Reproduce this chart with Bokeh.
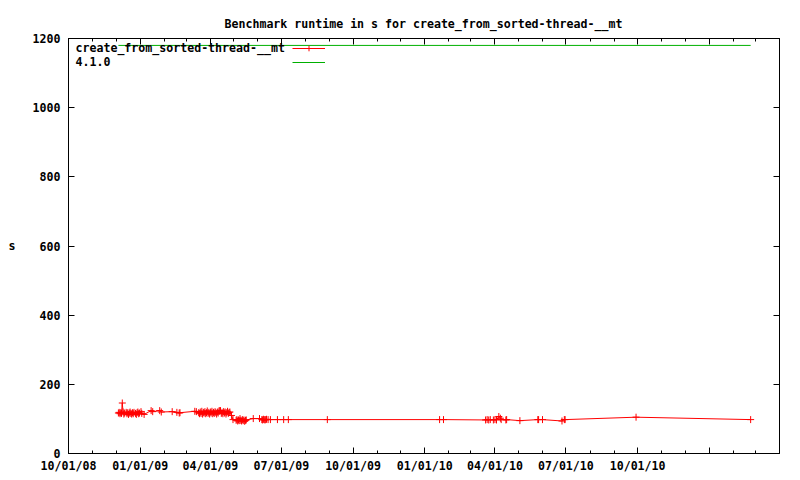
from datetime import datetime, timezone
from bokeh.plotting import figure
from bokeh.models import (Range1d, FixedTicker, LinearAxis, DatetimeTickFormatter,
                          CustomJSTickFormatter, Label, Legend, LegendItem)
from bokeh.embed import file_html
from bokeh.resources import INLINE

title_text = "Benchmark runtime in s for create_from_sorted-thread-__mt"
series_name = "create_from_sorted-thread-__mt"
ref_name = "4.1.0"
ref_value = 1180
y_label = "s"

x_start = "2008-10-01"
x_end = "2011-04-01"
y_ticks = [0, 200, 400, 600, 800, 1000, 1200]
x_major_ticks = ["2008-10-01", "2009-01-01", "2009-04-01", "2009-07-01", "2009-10-01",
                 "2010-01-01", "2010-04-01", "2010-07-01", "2010-10-01", "2011-01-01"]
x_tick_labels = ["10/01/08", "01/01/09", "04/01/09", "07/01/09", "10/01/09",
                 "01/01/10", "04/01/10", "07/01/10", "10/01/10", ""]
x_minor_ticks = ["2008-11-01", "2008-12-01", "2009-02-01", "2009-03-01", "2009-05-01",
                 "2009-06-01", "2009-08-01", "2009-09-01", "2009-11-01", "2009-12-01",
                 "2010-02-01", "2010-03-01", "2010-05-01", "2010-06-01", "2010-08-01",
                 "2010-09-01", "2010-11-01", "2010-12-01", "2011-02-01", "2011-03-01"]

dates = [
    "2008-12-04", "2008-12-05", "2008-12-06", "2008-12-07", "2008-12-08", "2008-12-09",
    "2008-12-10", "2008-12-11", "2008-12-12", "2008-12-14", "2008-12-15", "2008-12-16",
    "2008-12-17", "2008-12-18", "2008-12-19", "2008-12-20", "2008-12-21", "2008-12-22",
    "2008-12-23", "2008-12-24", "2008-12-26", "2008-12-27", "2008-12-28", "2008-12-29",
    "2008-12-30", "2008-12-31", "2009-01-02", "2009-01-03", "2009-01-06", "2009-01-15",
    "2009-01-17", "2009-01-26", "2009-01-28", "2009-02-11", "2009-02-17", "2009-02-20",
    "2009-02-21", "2009-03-12", "2009-03-14",
    "2009-03-17", "2009-03-18", "2009-03-19", "2009-03-20", "2009-03-21", "2009-03-22",
    "2009-03-23", "2009-03-24", "2009-03-25", "2009-03-26", "2009-03-27", "2009-03-28",
    "2009-03-29", "2009-03-30", "2009-03-31", "2009-04-01", "2009-04-02", "2009-04-03",
    "2009-04-04", "2009-04-05", "2009-04-06", "2009-04-07", "2009-04-08", "2009-04-09",
    "2009-04-10", "2009-04-11", "2009-04-12", "2009-04-13", "2009-04-14", "2009-04-15",
    "2009-04-16", "2009-04-17", "2009-04-18", "2009-04-19", "2009-04-20", "2009-04-21",
    "2009-04-22", "2009-04-23", "2009-04-24", "2009-04-25", "2009-04-26",
    "2009-04-28", "2009-04-30",
    "2009-05-04", "2009-05-05", "2009-05-06", "2009-05-07", "2009-05-08", "2009-05-09",
    "2009-05-10", "2009-05-11", "2009-05-12", "2009-05-13", "2009-05-14", "2009-05-15",
    "2009-05-16", "2009-05-17",
    "2009-05-26", "2009-06-03", "2009-06-06", "2009-06-07", "2009-06-08", "2009-06-09",
    "2009-06-10", "2009-06-11", "2009-06-12", "2009-06-14", "2009-06-17", "2009-06-26",
    "2009-07-04", "2009-07-10", "2009-08-29",
    "2010-01-20", "2010-01-25",
    "2010-03-20", "2010-03-22", "2010-03-24", "2010-03-26", "2010-03-30", "2010-04-01",
    "2010-04-03", "2010-04-06", "2010-04-08", "2010-04-09", "2010-04-15", "2010-04-16",
    "2010-05-03", "2010-05-26", "2010-05-27", "2010-06-01", "2010-06-26", "2010-06-29",
    "2010-06-30", "2010-09-29", "2011-02-23",
]
runtime = [
    117, 119, 115, 118, 116, 146,
    120, 114, 117, 119, 115, 118,
    113, 117, 120, 116, 114, 118,
    115, 119, 116, 113, 118, 120,
    115, 117, 121, 116, 113, 124,
    121, 124, 120, 121, 119, 117,
    118, 122, 121,
    118, 115, 120, 116, 122, 114,
    119, 117, 121, 115, 118, 123,
    116, 119, 114, 120, 117, 122,
    115, 119, 116, 121, 118, 114,
    120, 117, 123, 124, 124, 116,
    119, 115, 121, 117, 120, 114,
    118, 122, 116, 119, 120,
    110, 98,
    96, 98, 94, 97, 95, 101,
    96, 94, 98, 95, 97, 93,
    96, 97,
    101, 101, 98, 97, 99, 98,
    97, 98, 99, 98, 98, 98,
    98, 98, 98,
    98, 98,
    97, 98, 97, 98, 97, 98,
    97, 107, 102, 98, 97, 98,
    95, 98, 98, 98, 94, 98,
    98, 105, 98,
]


def to_dt(s):
    return datetime.strptime(s, "%Y-%m-%d")


def to_ms(s):
    return to_dt(s).replace(tzinfo=timezone.utc).timestamp() * 1000.0


FONT = "DejaVu Sans Mono"
FSIZE = "11.6px"
RED = "#ff0000"
GREEN = "#00b000"

xs = [to_dt(d) for d in dates]

p = figure(frame_width=711, frame_height=415,
           x_axis_type="datetime",
           x_range=Range1d(to_ms(x_start), to_ms(x_end)),
           y_range=Range1d(y_ticks[0], y_ticks[-1]),
           output_backend="svg", toolbar_location=None,
           min_border_left=68, min_border_right=13,
           min_border_top=38, min_border_bottom=20,
           background_fill_color="white", border_fill_color="white")

p.grid.visible = False
p.outline_line_color = "black"
p.outline_line_width = 1

p.title.text = title_text
p.title.align = "left"
p.title.offset = 156
p.title.text_font = FONT
p.title.text_font_size = FSIZE
p.title.text_font_style = "bold"
p.title.text_color = "black"
p.title.standoff = 16

major_ms = [to_ms(t) for t in x_major_ticks]
minor_ms = [to_ms(t) for t in x_minor_ticks]

xa = p.xaxis[0]
xa.ticker = FixedTicker(ticks=major_ms, minor_ticks=minor_ms)
xa.formatter = DatetimeTickFormatter(days="%m/%d/%y", months="%m/%d/%y", years="%m/%d/%y")
xa.major_label_overrides = {m: lab for m, lab in zip(major_ms, x_tick_labels)}

ya = p.yaxis[0]
ya.ticker = FixedTicker(ticks=y_ticks, minor_ticks=[])

for ax in (xa, ya):
    ax.major_tick_in = 6
    ax.major_tick_out = 0
    ax.minor_tick_in = 3
    ax.minor_tick_out = 0
    ax.axis_line_color = "black"
    ax.major_tick_line_color = "black"
    ax.minor_tick_line_color = "black"
    ax.major_label_text_font = FONT
    ax.major_label_text_font_size = FSIZE
    ax.major_label_text_font_style = "bold"
    ax.major_label_text_color = "black"
xa.major_label_standoff = 5
ya.major_label_standoff = 8

ya.axis_label = y_label
ya.axis_label_text_font = FONT
ya.axis_label_text_font_size = FSIZE
ya.axis_label_text_font_style = "bold"
ya.axis_label_text_color = "black"
ya.axis_label_standoff = 14
try:
    ya.axis_label_orientation = "horizontal"
except Exception:
    pass

blank = CustomJSTickFormatter(code="return ''")
top = LinearAxis(ticker=FixedTicker(ticks=major_ms, minor_ticks=minor_ms), formatter=blank,
                 major_tick_in=6, major_tick_out=0, minor_tick_in=3, minor_tick_out=0,
                 major_label_standoff=0, major_label_text_font_size="1px",
                 axis_line_color="black")
p.add_layout(top, "above")
right = LinearAxis(ticker=FixedTicker(ticks=y_ticks, minor_ticks=[]), formatter=blank,
                   major_tick_in=6, major_tick_out=0, minor_tick_in=0, minor_tick_out=0,
                   major_label_standoff=0, major_label_text_font_size="1px",
                   axis_line_color="black")
p.add_layout(right, "right")

ref_r = p.line([xs[0], xs[-1]], [ref_value, ref_value], line_color=GREEN, line_width=1)
line_r = p.line(xs, runtime, line_color=RED, line_width=1)
pts_r = p.scatter(xs, runtime, marker="cross", size=7, line_color=RED, line_width=1)

legend = Legend(items=[LegendItem(label=" ", renderers=[line_r, pts_r]),
                       LegendItem(label=" ", renderers=[ref_r])],
                location=(224, 384), orientation="vertical",
                glyph_width=33, glyph_height=14, label_width=0, label_height=14,
                label_standoff=0, spacing=0, padding=0, margin=0,
                border_line_color=None, background_fill_alpha=0,
                label_text_font_size="1px")
p.add_layout(legend)

for txt, yy in ((series_name, 405.3), (ref_name, 391.7)):
    p.add_layout(Label(x=7, y=yy, x_units="screen", y_units="screen", text=txt,
                       text_font=FONT, text_font_size=FSIZE, text_font_style="bold",
                       text_color="black", text_align="left", text_baseline="middle"))

open("out.html", "w").write(file_html(p, INLINE))
